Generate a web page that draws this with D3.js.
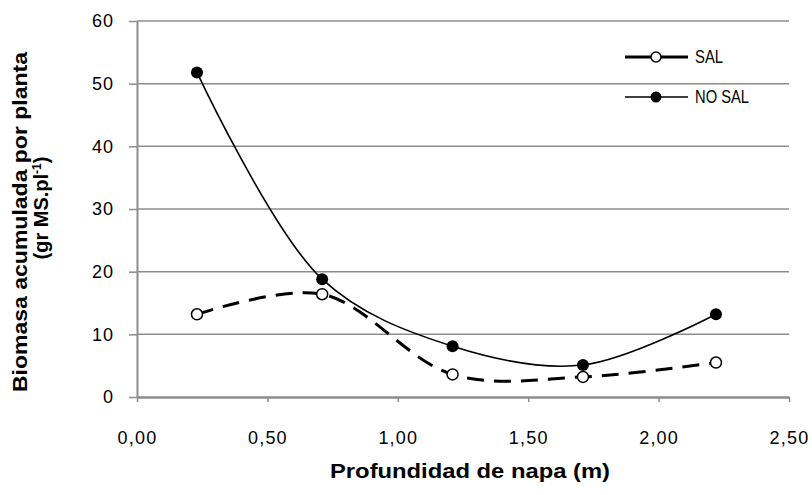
<!DOCTYPE html>
<html>
<head>
<meta charset="utf-8">
<script src="https://cdn.jsdelivr.net/npm/d3@7"></script>
<style>
  body { margin: 0; background: #fff; }
  text { font-family: "Liberation Sans Narrow", "Liberation Sans", Arial, sans-serif; }
</style>
</head>
<body>
<script>
// data
const depth = [0.23, 0.71, 1.21, 1.71, 2.22];
const sal = [13.2, 16.4, 3.6, 3.2, 5.5];
const noSal = [51.8, 18.8, 8.1, 5.1, 13.2];
const xTicks = [0, 0.5, 1, 1.5, 2, 2.5];
const yTicks = [0, 10, 20, 30, 40, 50, 60];
const seriesNames = ["SAL", "NO SAL"];

const width = 812, height = 495;
const margin = {left: 137, right: 23, top: 21, bottom: 98};

const svg = d3.select("body").append("svg")
              .attr("width", width)
              .attr("height", height);

const x = d3.scaleLinear().domain([0, 2.5]).range([margin.left, width - margin.right]);
const y = d3.scaleLinear().domain([0, 60]).range([height - margin.bottom, margin.top]);

// gridlines
svg.append("g")
   .selectAll("line")
   .data(yTicks.filter(d => d > 0))
   .join("line")
   .attr("x1", x(0)).attr("x2", x(2.5))
   .attr("y1", d => y(d)).attr("y2", d => y(d))
   .attr("stroke", "#8c8c8c")
   .attr("stroke-width", 1.5);

// x axis
const fmt = d => d.toFixed(2).replace(".", ",");
const xAxis = svg.append("g")
   .attr("transform", "translate(0," + y(0) + ")")
   .call(d3.axisBottom(x).tickValues(xTicks).tickFormat(fmt).tickSize(5).tickSizeOuter(0));
xAxis.select(".domain").attr("stroke", "#8c8c8c").attr("stroke-width", 2.5);
xAxis.selectAll(".tick line").attr("stroke", "#8c8c8c").attr("stroke-width", 1.5);
xAxis.selectAll(".tick text")
     .attr("y", 34).attr("dy", "0.71em")
     .attr("font-size", 18).attr("letter-spacing", 1.2).attr("fill", "#000");

// y axis
const yAxis = svg.append("g")
   .attr("transform", "translate(" + x(0) + ",0)")
   .call(d3.axisLeft(y).tickValues(yTicks).tickSize(8).tickSizeOuter(0).tickPadding(15));
yAxis.select(".domain").attr("stroke", "#8c8c8c").attr("stroke-width", 2);
yAxis.selectAll(".tick line").attr("stroke", "#8c8c8c").attr("stroke-width", 1.5);
yAxis.selectAll(".tick text").attr("font-size", 18).attr("letter-spacing", 1).attr("fill", "#000");

// lines
const line = d3.line()
   .x((d, i) => x(depth[i]))
   .y(d => y(d))
   .curve(d3.curveCatmullRom.alpha(0.5));

svg.append("path")
   .attr("d", line(sal))
   .attr("fill", "none")
   .attr("stroke", "#000")
   .attr("stroke-width", 3)
   .attr("stroke-dasharray", "17,10");

svg.append("path")
   .attr("d", line(noSal))
   .attr("fill", "none")
   .attr("stroke", "#000")
   .attr("stroke-width", 1.6);

// markers
svg.append("g").selectAll("circle")
   .data(sal)
   .join("circle")
   .attr("cx", (d, i) => x(depth[i]))
   .attr("cy", d => y(d))
   .attr("r", 5.5)
   .attr("fill", "#fff")
   .attr("stroke", "#000")
   .attr("stroke-width", 1.5);

svg.append("g").selectAll("circle")
   .data(noSal)
   .join("circle")
   .attr("cx", (d, i) => x(depth[i]))
   .attr("cy", d => y(d))
   .attr("r", 6)
   .attr("fill", "#000");

// legend
const legend = svg.append("g");
const legendY = [57, 97];
const legendW = [28, 54];
seriesNames.forEach((name, i) => {
  legend.append("line")
        .attr("x1", 625).attr("x2", 688)
        .attr("y1", legendY[i]).attr("y2", legendY[i])
        .attr("stroke", "#000")
        .attr("stroke-width", i === 0 ? 3 : 1.6);
  legend.append("circle")
        .attr("cx", 656).attr("cy", legendY[i])
        .attr("r", i === 0 ? 5 : 5.5)
        .attr("fill", i === 0 ? "#fff" : "#000")
        .attr("stroke", i === 0 ? "#000" : "none")
        .attr("stroke-width", 1.5);
  legend.append("text")
        .attr("x", 695).attr("y", legendY[i])
        .attr("dy", "0.36em")
        .attr("font-size", 18)
        .attr("textLength", legendW[i])
        .attr("lengthAdjust", "spacingAndGlyphs")
        .text(name);
});

// axis titles
svg.append("text")
   .attr("x", 470)
   .attr("y", 478)
   .attr("text-anchor", "middle")
   .attr("font-size", 20)
   .attr("font-weight", "bold")
   .attr("textLength", 280)
   .attr("lengthAdjust", "spacingAndGlyphs")
   .text("Profundidad de napa (m)");

svg.append("text")
   .attr("transform", "translate(27,222) rotate(-90)")
   .attr("font-size", 20)
   .attr("font-weight", "bold")
   .append("tspan")
   .attr("x", -170).attr("y", 0)
   .attr("textLength", 340)
   .attr("lengthAdjust", "spacingAndGlyphs")
   .text("Biomasa acumulada por planta");

const line2 = svg.append("text")
   .attr("transform", "translate(48,208) rotate(-90)")
   .attr("text-anchor", "middle")
   .attr("font-size", 20)
   .attr("font-weight", "bold");
line2.append("tspan").text("(gr MS.pl");
line2.append("tspan").attr("baseline-shift", "super").attr("font-size", 12).text("-1");
line2.append("tspan").text(")");
</script>
</body>
</html>
